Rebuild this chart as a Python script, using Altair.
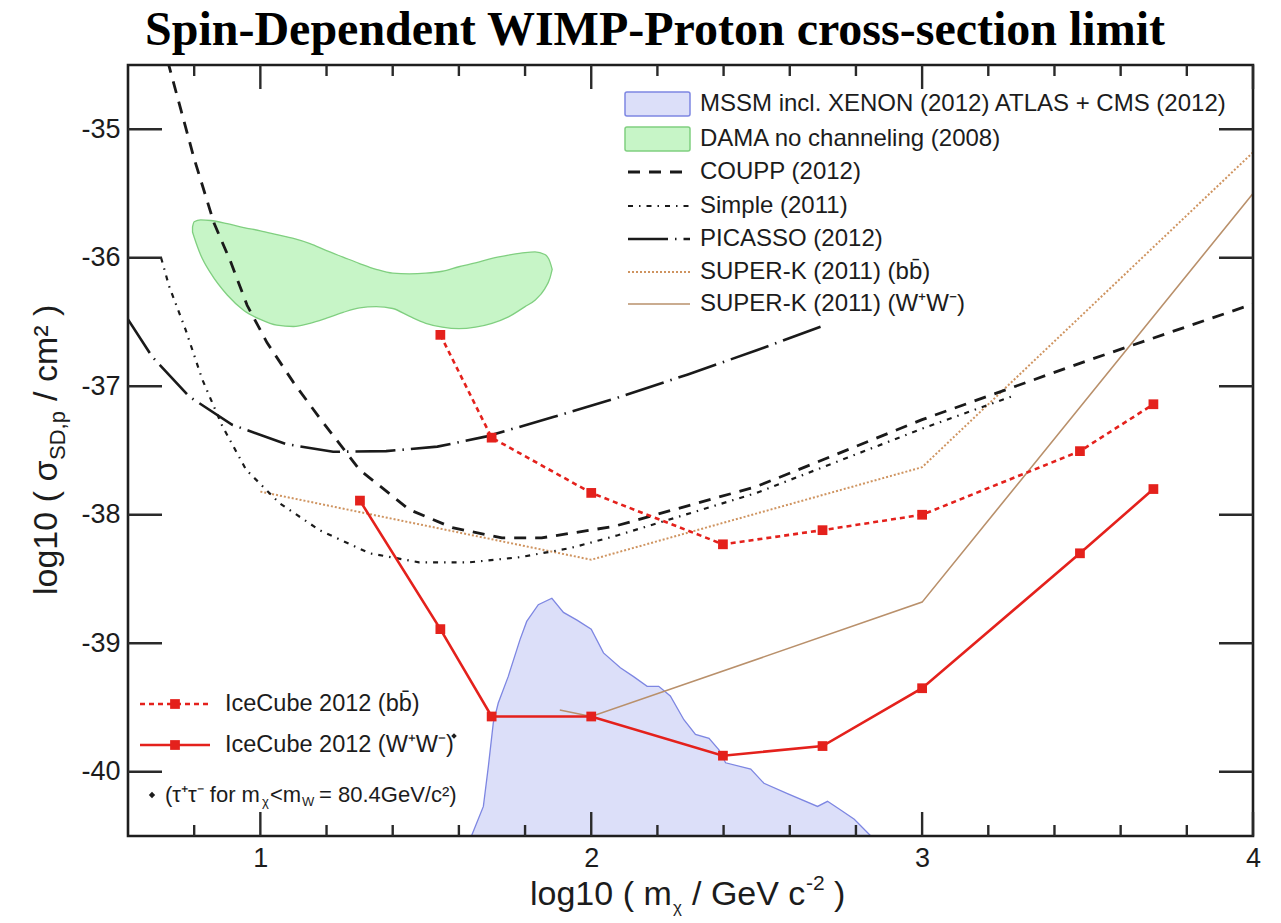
import altair as alt
import pandas as pd

# plot-area size in pixels
W, H = 1125, 771

# ---------------- data ----------------
icecube_bb_x = [1.544, 1.699, 2.0, 2.398, 2.699, 3.0, 3.477, 3.699]
icecube_bb_y = [-36.60, -37.40, -37.83, -38.23, -38.12, -38.00, -37.505, -37.14]
icecube_ww_x = [1.301, 1.544, 1.699, 2.0, 2.398, 2.699, 3.0, 3.477, 3.699]
icecube_ww_y = [-37.89, -38.89, -39.57, -39.57, -39.875, -39.80, -39.35, -38.30, -37.80]

superk_bb_x = [1.0, 2.0, 3.0, 4.0]
superk_bb_y = [-37.82, -38.35, -37.63, -35.18]
superk_ww_x = [1.905, 2.0, 3.0, 4.0]
superk_ww_y = [-39.52, -39.57, -38.68, -35.50]

coupp_x = [0.72, 0.76, 0.80, 0.86, 0.91, 0.96, 1.02, 1.10, 1.18, 1.30, 1.45, 1.58,
           1.73, 1.85, 2.07, 2.5, 3.0, 3.5, 4.0]
coupp_y = [-34.47, -34.85, -35.23, -35.73, -36.03, -36.37, -36.66, -36.97, -37.25,
           -37.65, -37.96, -38.10, -38.18, -38.18, -38.09, -37.78, -37.26, -36.80, -36.36]

simple_x = [0.70, 0.724, 0.774, 0.825, 0.885, 0.957, 1.058, 1.179, 1.33, 1.48, 1.633,
            1.785, 1.936, 2.08, 2.5, 3.0, 3.27]
simple_y = [-36.0, -36.22, -36.56, -36.95, -37.31, -37.65, -37.91, -38.12, -38.30,
            -38.37, -38.37, -38.33, -38.26, -38.16, -37.83, -37.33, -37.08]

picasso_x = [0.6, 0.673, 0.785, 0.915, 1.078, 1.22, 1.38, 1.535, 1.684, 1.885, 2.078,
             2.29, 2.5, 2.70]
picasso_y = [-36.48, -36.77, -37.08, -37.30, -37.45, -37.51, -37.505, -37.47, -37.39,
             -37.24, -37.09, -36.91, -36.72, -36.53]

# DAMA region: upper and lower edge on a shared mass grid
dama_x = [0.795, 0.80, 0.82, 0.85, 0.90, 0.95, 1.00, 1.05, 1.10, 1.15, 1.20, 1.25, 1.30,
          1.35, 1.40, 1.45, 1.50, 1.55, 1.60, 1.65, 1.70, 1.75, 1.80, 1.83, 1.86, 1.875, 1.882]
dama_hi = [-35.76, -35.72, -35.705, -35.71, -35.735, -35.765, -35.79, -35.82, -35.85,
           -35.89, -35.945, -35.995, -36.045, -36.09, -36.12, -36.125, -36.12, -36.105,
           -36.07, -36.04, -36.005, -35.98, -35.96, -35.955, -35.975, -36.03, -36.09]
dama_lo = [-35.80, -35.84, -35.98, -36.12, -36.29, -36.41, -36.48, -36.525, -36.535,
           -36.51, -36.47, -36.425, -36.39, -36.38, -36.395, -36.455, -36.51, -36.54,
           -36.552, -36.54, -36.51, -36.46, -36.38, -36.33, -36.24, -36.16, -36.09]

# MSSM scan envelope (upper edge, filled down to the bottom of the axis)
mssm_x = [1.638, 1.674, 1.689, 1.704, 1.719, 1.749, 1.785, 1.805, 1.84, 1.881, 1.916,
          1.957, 2.0, 2.037, 2.088, 2.128, 2.169, 2.204, 2.239, 2.28, 2.315, 2.356,
          2.386, 2.406, 2.482, 2.522, 2.593, 2.684, 2.714, 2.755, 2.795, 2.845]
mssm_y = [-40.5, -40.27, -39.96, -39.62, -39.465, -39.26, -38.97, -38.83, -38.70, -38.65,
          -38.76, -38.82, -38.89, -39.075, -39.19, -39.26, -39.335, -39.335, -39.41,
          -39.595, -39.71, -39.74, -39.83, -39.93, -39.98, -40.09, -40.17, -40.27,
          -40.23, -40.30, -40.37, -40.5]

x_major = [1, 2, 3, 4]
x_minor = [0.8, 1.2, 1.4, 1.6, 1.8, 2.2, 2.4, 2.6, 2.8, 3.2, 3.4, 3.6, 3.8]
y_major = [-35, -36, -37, -38, -39, -40]

title_text = ["Spin-Dependent WIMP-Proton cross-section limit"]
legend_top = [
    "MSSM incl. XENON (2012) ATLAS + CMS (2012)",
    "DAMA no channeling (2008)",
    "COUPP (2012)",
    "Simple (2011)",
    "PICASSO (2012)",
    "SUPER-K (2011) (bb\u0304)",
    "SUPER-K (2011) (W\u207aW\u207b)",
]
legend_bottom = ["IceCube 2012 (bb\u0304)", "IceCube 2012 (W\u207aW\u207b)"]

# ---------------- styling ----------------
SANS = "Liberation Sans"
INK = "#1c1c1c"
RED = "#e4211c"
BLACK = "#1a1a1a"
BROWN_DOT = "#cf9460"
BROWN = "#b9906b"
GREEN_FILL, GREEN_EDGE = "#c7f5c7", "#80cf80"
BLUE_FILL, BLUE_EDGE = "#dcdff9", "#7d86e2"

DASH_COUPP = [12, 9]
DASH_SIMPLE = [5, 6, 1.5, 6]
DASH_PICASSO = [40, 7, 1.5, 7]

xs = alt.Scale(domain=[0.6, 4.0], nice=False, zero=False)
ys = alt.Scale(domain=[-40.5, -34.5], nice=False, zero=False)
xaxis = alt.Axis(values=x_major, ticks=False, domain=False, grid=False, title=None,
                 labelFont=SANS, labelFontSize=27, labelColor=INK, labelPadding=9,
                 labelFlush=False, labelOverlap=False)
yaxis = alt.Axis(values=y_major, ticks=False, domain=False, grid=False, title=None,
                 labelFont=SANS, labelFontSize=27, labelColor=INK, labelPadding=8,
                 labelExpr="'' + datum.value", labelOverlap=False)


def X(field="x"):
    return alt.X(f"{field}:Q", scale=xs, axis=xaxis)


def Y(field="y"):
    return alt.Y(f"{field}:Q", scale=ys, axis=yaxis)


def curve(xv, yv, **mark):
    df = pd.DataFrame({"x": xv, "y": yv})
    return alt.Chart(df).mark_line(clip=True, **mark).encode(x=X(), y=Y())


def one():
    return pd.DataFrame({"k": [0]})


layers = []

# shaded regions
dama = pd.DataFrame({"x": dama_x, "hi": dama_hi, "lo": dama_lo})
layers.append(
    alt.Chart(dama).mark_area(clip=True, interpolate="monotone", fill=GREEN_FILL,
                              stroke=GREEN_EDGE, strokeWidth=1.3)
    .encode(x=X(), y=Y("hi"), y2="lo:Q")
)
mssm = pd.DataFrame({"x": mssm_x, "y": mssm_y})
layers.append(
    alt.Chart(mssm).mark_area(clip=True, fill=BLUE_FILL)
    .encode(x=X(), y=Y(), y2=alt.datum(-40.5))
)
layers.append(curve(mssm_x, mssm_y, color=BLUE_EDGE, strokeWidth=1.3))

# other experiments
layers.append(curve(superk_bb_x, superk_bb_y, color=BROWN_DOT, strokeWidth=2,
                    strokeDash=[2, 2]))
layers.append(curve(superk_ww_x, superk_ww_y, color=BROWN, strokeWidth=1.6))
layers.append(curve(coupp_x, coupp_y, color=BLACK, strokeWidth=2.8, strokeDash=DASH_COUPP))
layers.append(curve(simple_x, simple_y, color=BLACK, strokeWidth=2.2, strokeDash=DASH_SIMPLE))
layers.append(curve(picasso_x, picasso_y, color=BLACK, strokeWidth=2.6,
                    strokeDash=DASH_PICASSO))

# IceCube limits
for xv, yv, dash in [(icecube_bb_x, icecube_bb_y, [5, 4]), (icecube_ww_x, icecube_ww_y, None)]:
    df = pd.DataFrame({"x": xv, "y": yv})
    line_kw = dict(color=RED, strokeWidth=2.6, clip=True)
    if dash:
        line_kw["strokeDash"] = dash
    layers.append(alt.Chart(df).mark_line(**line_kw).encode(x=X(), y=Y()))
    layers.append(alt.Chart(df).mark_square(color=RED, size=95, opacity=1)
                  .encode(x=X(), y=Y()))

# frame around the plot area
layers.append(
    alt.Chart(one()).mark_rect(fill="#ffffff", fillOpacity=0, stroke="#1e1e1e",
                               strokeWidth=2.6)
    .encode(x=alt.value(0), x2=alt.value(W), y=alt.value(0), y2=alt.value(H))
)

# inward-pointing ticks on all four sides
tick_style = dict(color="#2a2a2a", strokeWidth=2.4)
xt_major = pd.DataFrame({"x": x_major})
xt_minor = pd.DataFrame({"x": x_minor})
yt_major = pd.DataFrame({"y": y_major})
for df, ln in [(xt_major, 24), (xt_minor, 11)]:
    layers.append(alt.Chart(df).mark_rule(**tick_style)
                  .encode(x=X(), y=alt.value(H), y2=alt.value(H - ln)))
    layers.append(alt.Chart(df).mark_rule(**tick_style)
                  .encode(x=X(), y=alt.value(0), y2=alt.value(ln)))
layers.append(alt.Chart(yt_major).mark_rule(**tick_style)
              .encode(y=Y(), x=alt.value(0), x2=alt.value(34)))
layers.append(alt.Chart(yt_major).mark_rule(**tick_style)
              .encode(y=Y(), x=alt.value(W - 34), x2=alt.value(W)))


def label(text, x, y, size, **kw):
    df = pd.DataFrame({"t": [text]})
    opts = dict(font=SANS, fontSize=size, color=INK, align="left", baseline="middle")
    opts.update(kw)
    return alt.Chart(df).mark_text(**opts).encode(text="t:N", x=alt.value(x), y=alt.value(y))


# ---------- upper-right legend ----------
sym_x0, sym_x1, txt_x = 500, 562, 572
rows = [39, 74, 107, 141, 174, 207, 239]
box = [(BLUE_FILL, BLUE_EDGE), (GREEN_FILL, GREEN_EDGE)]
for i, (fill, edge) in enumerate(box):
    layers.append(
        alt.Chart(one()).mark_rect(fill=fill, stroke=edge, strokeWidth=1.5, cornerRadius=2)
        .encode(x=alt.value(sym_x0 - 3), x2=alt.value(sym_x1), y=alt.value(rows[i] - 12),
                y2=alt.value(rows[i] + 12))
    )
line_styles = [
    dict(color=BLACK, strokeWidth=2.8, strokeDash=DASH_COUPP),
    dict(color=BLACK, strokeWidth=2.2, strokeDash=DASH_SIMPLE),
    dict(color=BLACK, strokeWidth=2.6, strokeDash=DASH_PICASSO),
    dict(color=BROWN_DOT, strokeWidth=2, strokeDash=[2, 2]),
    dict(color=BROWN, strokeWidth=1.6),
]
for j, st in enumerate(line_styles):
    r = rows[j + 2]
    layers.append(
        alt.Chart(one()).mark_rule(**st)
        .encode(x=alt.value(sym_x0), x2=alt.value(sym_x1), y=alt.value(r))
    )
for name, r in zip(legend_top, rows):
    layers.append(label(name, txt_x, r, 24))

# ---------- lower-left legend ----------
brow = [639, 680]
for k, dash in enumerate([[5, 4], None]):
    kw = dict(color=RED, strokeWidth=2.6)
    if dash:
        kw["strokeDash"] = dash
    layers.append(alt.Chart(one()).mark_rule(**kw)
                  .encode(x=alt.value(12), x2=alt.value(82), y=alt.value(brow[k])))
    layers.append(alt.Chart(one()).mark_square(color=RED, size=95, opacity=1)
                  .encode(x=alt.value(47), y=alt.value(brow[k])))
for name, r in zip(legend_bottom, brow):
    layers.append(label(name, 97, r, 23.5))
layers.append(alt.Chart(one()).mark_point(shape="diamond", filled=True, color=INK,
                                          size=30, opacity=1)
              .encode(x=alt.value(326), y=alt.value(671)))
# footnote on the W+W- channel
layers.append(alt.Chart(one()).mark_point(shape="diamond", filled=True, color=INK,
                                          size=40, opacity=1)
              .encode(x=alt.value(24), y=alt.value(730)))
layers.append(label("(\u03c4\u207a\u03c4\u207b for m", 37, 730, 22))
layers.append(label("\u03c7", 134, 737, 13))
layers.append(label("<m", 142, 730, 22))
layers.append(label("W", 174, 737, 13))
layers.append(label("= 80.4GeV/c\u00b2)", 191, 730, 22))

# ---------- titles ----------
layers.append(
    alt.Chart(pd.DataFrame({"t": title_text})).mark_text(
        font="Liberation Serif", fontWeight="bold", fontSize=48, color="black",
        align="center", baseline="alphabetic")
    .encode(text="t:N", x=alt.value(527), y=alt.value(-20))
)
# x-axis title: log10 ( m_chi / GeV c^-2 )
layers.append(label("log10 ( m", 402, 840, 34, baseline="alphabetic"))
layers.append(label("\u03c7", 545, 848, 17, baseline="alphabetic"))
layers.append(label("/ GeV c", 564, 840, 34, baseline="alphabetic"))
layers.append(label("-2", 678, 825, 21, baseline="alphabetic"))
layers.append(label(")", 706, 840, 34, baseline="alphabetic"))
# y-axis title: log10 ( sigma_SD,p / cm^2 ), reading upwards
layers.append(label("log10 ( \u03c3", -71, 530, 34, baseline="alphabetic", angle=270))
layers.append(label("SD,p", -63, 395, 22, baseline="alphabetic", angle=270))
layers.append(label("/ cm\u00b2 )", -71, 336, 34, baseline="alphabetic", angle=270))

chart = (
    alt.layer(*layers)
    .properties(width=W, height=H,
                padding={"left": 128, "top": 65, "right": 28, "bottom": 87},
                autosize=alt.AutoSizeParams(type="none"))
    .configure_view(strokeWidth=0)
    .configure(background="white")
)

chart.save("out.html", embed_options={"renderer": "svg", "actions": False})
